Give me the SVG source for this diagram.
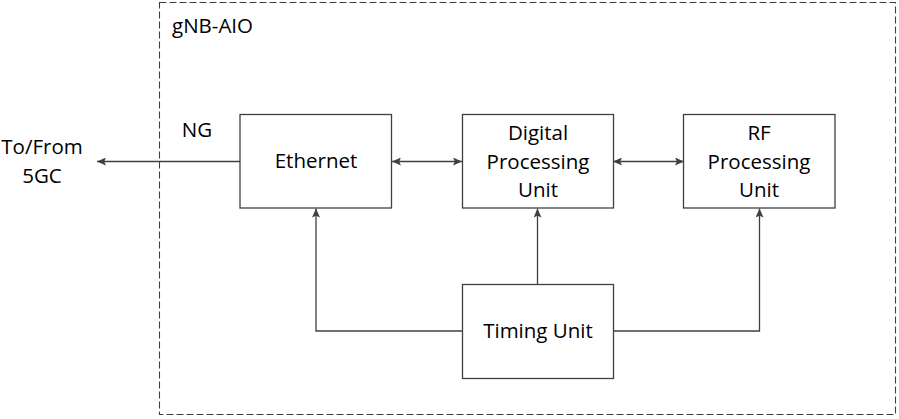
<svg xmlns="http://www.w3.org/2000/svg" width="899" height="419" viewBox="0 0 899 419">
<style>
text{font-family:"Open Sans","Noto Sans","Liberation Sans",sans-serif;font-size:20.5px;fill:#000;text-anchor:middle}
.box{fill:#fff;stroke:#404040;stroke-width:1.3}
.ln{fill:none;stroke:#404040;stroke-width:1.3}
</style>
<defs>
<marker id="ah" viewBox="0 0 10 10" refX="10" refY="5" markerWidth="9" markerHeight="8" markerUnits="userSpaceOnUse" orient="auto-start-reverse" preserveAspectRatio="none">
<path d="M0,0 L10,5 L0,10 L2,5 z" fill="#404040"/>
</marker>
</defs>
<rect width="899" height="419" fill="#fff"/>
<g id="container">
<rect x="159.5" y="2.5" width="736" height="412" fill="none" stroke="#404040" stroke-width="1.1" stroke-dasharray="7,3"/>
<text x="172" y="33" style="text-anchor:start">gNB-AIO</text>
</g>
<g id="connectors">
<line class="ln" x1="240" y1="161.5" x2="97" y2="161.5" marker-end="url(#ah)"/>
<line class="ln" x1="392" y1="161.5" x2="462" y2="161.5" marker-start="url(#ah)" marker-end="url(#ah)"/>
<line class="ln" x1="613" y1="161.5" x2="684" y2="161.5" marker-start="url(#ah)" marker-end="url(#ah)"/>
<polyline class="ln" points="462,331 316,331 316,208.5" marker-end="url(#ah)"/>
<line class="ln" x1="537.5" y1="284" x2="537.5" y2="208.5" marker-end="url(#ah)"/>
<polyline class="ln" points="613,331 759.5,331 759.5,208.5" marker-end="url(#ah)"/>
</g>
<g id="label-5gc">
<text x="42" y="154">To/From</text>
<text x="42" y="183">5GC</text>
</g>
<g id="label-ng"><text x="197" y="137">NG</text></g>
<g id="ethernet">
<rect class="box" x="240" y="114.5" width="151.5" height="93.5"/>
<text x="316" y="167.5">Ethernet</text>
</g>
<g id="dpu">
<rect class="box" x="462.5" y="114.5" width="151" height="93.5"/>
<text x="538" y="139.5">Digital</text>
<text x="538" y="168.5">Processing</text>
<text x="538" y="196.5">Unit</text>
</g>
<g id="rfpu">
<rect class="box" x="683.5" y="114.5" width="151.5" height="93.5"/>
<text x="759" y="139.5">RF</text>
<text x="759" y="168.5">Processing</text>
<text x="759" y="196.5">Unit</text>
</g>
<g id="timing">
<rect class="box" x="462.5" y="284.5" width="151" height="94"/>
<text x="538" y="337.5">Timing Unit</text>
</g>
</svg>
